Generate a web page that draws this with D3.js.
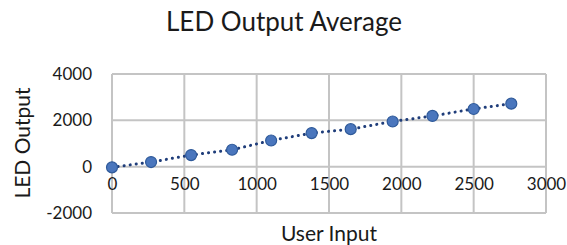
<!DOCTYPE html>
<html>
<head>
<meta charset="UTF-8">
<script src="https://cdn.jsdelivr.net/npm/d3@7"></script>
<style>
  body { margin: 0; background: #fff; }
  text { font-family: Lato, "Open Sans", sans-serif; fill: #1a1a1a; }
</style>
</head>
<body>
<div class="container"></div>
<script>
// données
const userInput = [0, 270, 547, 830, 1100, 1380, 1650, 1940, 2215, 2500, 2760];
const ledOutput = [-30, 200, 500, 730, 1130, 1450, 1620, 1950, 2190, 2490, 2720];
const xTicks = [0, 500, 1000, 1500, 2000, 2500, 3000];
const yTicks = [-2000, 0, 2000, 4000];

const width = 567, height = 245;
const marginLeft = 112, marginRight = 21, marginTop = 74, marginBottom = 32;

const x = d3.scaleLinear().domain([0, 3000]).range([marginLeft, width - marginRight]);
const y = d3.scaleLinear().domain([-2000, 4000]).range([height - marginBottom, marginTop]);

const svg = d3.create("svg")
  .attr("width", width)
  .attr("height", height)
  .attr("viewBox", [0, 0, width, height]);

// quadrillage
svg.append("g")
  .attr("stroke", "#c4c4c4")
  .attr("stroke-width", 2)
  .call(g => g.selectAll("line.v").data(xTicks).join("line")
    .attr("x1", d => x(d)).attr("x2", d => x(d))
    .attr("y1", y(4000)).attr("y2", y(-2000)))
  .call(g => g.selectAll("line.h").data(yTicks).join("line")
    .attr("x1", x(0)).attr("x2", x(3000))
    .attr("y1", d => y(d)).attr("y2", d => y(d)));

const fmt = d => String(d);

// axe y
svg.append("g")
  .attr("transform", `translate(${marginLeft - 20},0)`)
  .call(d3.axisLeft(y).tickValues(yTicks).tickFormat(fmt).tickSize(0).tickPadding(0))
  .call(g => g.select(".domain").remove())
  .call(g => g.selectAll("text").style("font-size", "17px").style("font-family", "Lato, sans-serif").attr("fill", "#1a1a1a"));

// axe x (croise à 0)
svg.append("g")
  .attr("transform", `translate(0,${y(0) + 8})`)
  .call(d3.axisBottom(x).tickValues(xTicks).tickFormat(fmt).tickSize(0).tickPadding(3))
  .call(g => g.select(".domain").remove())
  .call(g => g.selectAll("text").style("font-size", "17px").style("font-family", "Lato, sans-serif").attr("fill", "#1a1a1a"));

// ligne pointillée
const pts = userInput.map((d, i) => [d, ledOutput[i]]);
svg.append("path")
  .datum(pts)
  .attr("fill", "none")
  .attr("stroke", "#1f3d7a")
  .attr("stroke-width", 3)
  .attr("stroke-linecap", "round")
  .attr("stroke-dasharray", "0.1 6")
  .attr("d", d3.line().x(d => x(d[0])).y(d => y(d[1])));

// marqueurs
svg.append("g")
  .selectAll("circle")
  .data(pts)
  .join("circle")
    .attr("cx", d => x(d[0]))
    .attr("cy", d => y(d[1]))
    .attr("r", 5.5)
    .attr("fill", "#4a76bd")
    .attr("stroke", "#2f5a9a")
    .attr("stroke-width", 1.2);

// titres
svg.append("text")
  .attr("x", 284).attr("y", 31)
  .attr("text-anchor", "middle")
  .style("font-size", "26px")
  .text("LED Output Average");

svg.append("text")
  .attr("x", 329).attr("y", 241)
  .attr("text-anchor", "middle")
  .style("font-size", "21px")
  .text("User Input");

svg.append("text")
  .attr("transform", `translate(30,143) rotate(-90)`)
  .attr("text-anchor", "middle")
  .style("font-size", "21px")
  .text("LED Output");

document.querySelector(".container").appendChild(svg.node());
</script>
</body>
</html>
